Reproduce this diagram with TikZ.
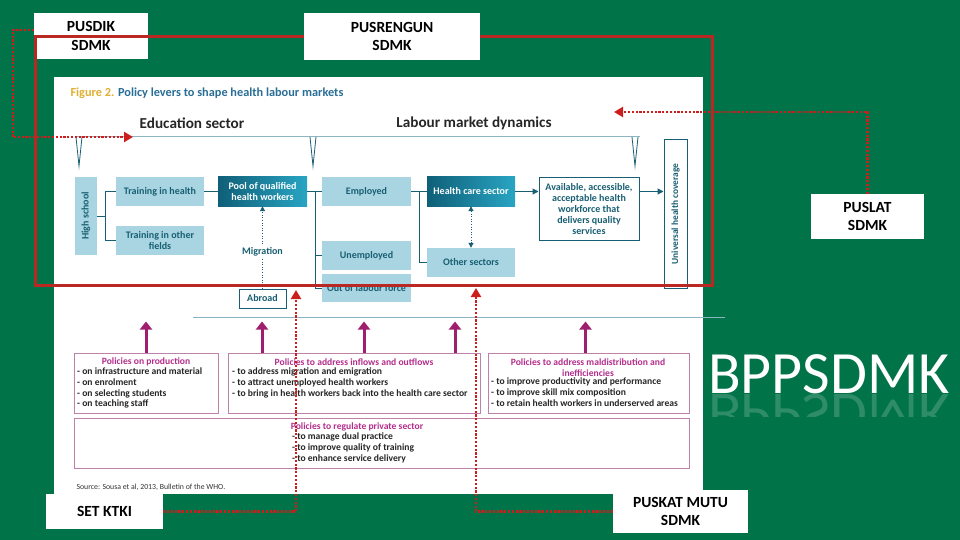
\documentclass[tikz,border=0pt]{standalone}
\usepackage{fontspec}
\setmainfont{Carlito}
\usetikzlibrary{arrows.meta}

\definecolor{bggreen}{RGB}{0,115,72}
\definecolor{framered}{RGB}{185,40,35}
\definecolor{dotred}{RGB}{205,30,30}
\definecolor{boxblue}{RGB}{168,213,225}
\definecolor{tealtext}{RGB}{25,95,115}
\definecolor{tealdark}{RGB}{15,95,120}
\definecolor{teallight}{RGB}{40,165,195}
\definecolor{rulecol}{RGB}{140,180,195}
\definecolor{figgold}{RGB}{225,175,50}
\definecolor{figblue}{RGB}{40,110,150}
\definecolor{polpurple}{RGB}{160,30,110}
\definecolor{polborder}{RGB}{190,130,170}
\definecolor{poltitle}{RGB}{180,45,140}

\begin{document}
\begin{tikzpicture}[x=1pt, y=-1pt, >=Latex,
    lblbox/.style={fill=white, inner sep=0pt, align=center, text=black,
        font=\bfseries\fontsize{15.5}{18.5}\selectfont},
    lightbox/.style={fill=boxblue, text=tealtext, inner sep=0pt, align=center,
        font=\bfseries\fontsize{10}{10.5}\selectfont},
    darkbox/.style={left color=tealdark, right color=teallight, text=white,
        inner sep=0pt, align=center, font=\bfseries\fontsize{10}{10.5}\selectfont},
    outbox/.style={draw=tealtext, line width=1pt, fill=white, text=tealtext,
        inner sep=0pt, align=center, font=\bfseries\fontsize{10}{10.8}\selectfont},
    link/.style={draw=tealtext, line width=1pt},
    linkarrow/.style={link, -{Triangle[length=6pt,width=6pt]}},
    linkdots/.style={draw=tealtext, line width=1pt, dash pattern=on 1pt off 1.6pt},
    dotline/.style={draw=dotred, line width=2.4pt, dash pattern=on 2.2pt off 1.6pt,
        -{Triangle[length=9pt,width=10pt]}},
    polbox/.style={draw=polborder, line width=1pt, fill=white, inner sep=0pt},
    poltitle/.style={text=poltitle, inner sep=0pt, align=center,
        font=\bfseries\fontsize{9.6}{10.8}\selectfont},
    politems/.style={text=black!85, inner sep=0pt, align=left, anchor=north west,
        font=\bfseries\fontsize{9.6}{10.8}\selectfont},
    polarrow/.style={draw=polpurple, line width=3pt, -{Triangle[length=8pt,width=12pt]}}
]

    % ==== BACKGROUND ====
    \fill[bggreen] (0,0) rectangle (960,540);
    \useasboundingbox (0,0) rectangle (960,540);

    % ==== FIGURE PANEL ====
    \fill[white] (54,77) rectangle (703,494);
    \node[anchor=west, font=\bfseries\fontsize{12.3}{14}\selectfont] (figtitle) at (67,93)
        {\textcolor{figgold}{Figure 2.} \textcolor{figblue}{Policy levers to shape health labour markets}};

    % ==== HEADERS ====
    \node[text=black!85, font=\bfseries\fontsize{15.2}{17}\selectfont] (edusec) at (192,123) {Education sector};
    \node[text=black!85, font=\bfseries\fontsize{15.2}{17}\selectfont] (labmkt) at (474,123) {Labour market dynamics};
    \draw[rulecol, line width=1pt] (77,137) -- (640,137);
    \foreach \vx in {79,313,635}{
        \draw[tealtext, line width=0.8pt] (\vx-3,137) -- (\vx,166) -- (\vx+3,137);
    }

    % ==== FLOW BOXES ====
    \node[lightbox, rotate=90, minimum width=78pt, minimum height=22pt] (highschool) at (86,216) {High school};
    \node[lightbox, minimum width=88pt, minimum height=29pt] (trainhealth) at (160,191.5) {Training in health};
    \node[lightbox, minimum width=88pt, minimum height=29pt] (trainother) at (160,240.5) {Training in other\\fields};
    \node[darkbox, minimum width=89pt, minimum height=29pt] (pool) at (262.5,191.5) {Pool of qualified\\health workers};
    \node[lightbox, minimum width=89pt, minimum height=29pt] (employed) at (366.5,191.5) {Employed};
    \node[lightbox, minimum width=89pt, minimum height=29pt] (unemployed) at (366.5,255.5) {Unemployed};
    \node[lightbox, minimum width=89pt, minimum height=28pt] (outlabour) at (366.5,288) {Out of labour force};
    \node[darkbox, minimum width=88pt, minimum height=29pt] (healthcare) at (471,191.5) {Health care sector};
    \node[lightbox, minimum width=88pt, minimum height=29pt] (othersec) at (471,262.5) {Other sectors};
    \node[outbox, minimum width=100pt, minimum height=62pt] (available) at (589,209)
        {Available, accessible,\\acceptable health\\workforce that\\delivers quality\\services};
    \node[outbox, rotate=90, minimum width=148pt, minimum height=23pt, font=\bfseries\fontsize{9.4}{10}\selectfont]
        (uhc) at (675.5,214) {Universal health coverage};
    \node[outbox, minimum width=47pt, minimum height=19pt] (abroad) at (262.5,298.5) {Abroad};

    % ==== FLOW LINKS ====
    \coordinate (hsjoin) at ([xshift=8pt]highschool.south);
    \coordinate (pooljoin) at ([xshift=8pt]pool.east);
    \coordinate (empjoin) at ([xshift=8pt]employed.east);
    \draw[link] (highschool.south) -- (hsjoin);
    \draw[link] (trainhealth.west) -| (hsjoin) |- (trainother.west);
    \draw[link] (trainhealth.east) -- (pool.west);
    \draw[link] (pool.east) -- (employed.west);
    \draw[link] (pooljoin) |- (outlabour.west);
    \draw[link] (pooljoin |- unemployed.west) -- (unemployed.west);
    \draw[link] (employed.east) -- (healthcare.west);
    \draw[link] (empjoin) |- (othersec.west);
    \draw[linkarrow] (healthcare.east) -- (healthcare.east -| available.west);
    \draw[linkarrow] (available.east |- healthcare.east) -- (healthcare.east -| uhc.north);
    \draw[linkdots, {Triangle[length=5pt,width=5pt]}-{Triangle[length=5pt,width=5pt]}]
        (healthcare.south) -- (othersec.north);
    \draw[linkdots, -{Triangle[length=5pt,width=5pt]}] (abroad.north) --
        node[pos=0.45, fill=white, inner sep=1pt, text=tealtext, font=\bfseries\fontsize{10}{11}\selectfont] (migration) {Migration}
        (pool.south);

    % ==== POLICY BOXES ====
    \draw[rulecol, line width=0.6pt] (193,317) -- (725,317);
    \node[polbox, minimum width=144pt, minimum height=60pt] (prod) at (146,383) {};
    \node[polbox, minimum width=252pt, minimum height=60pt] (inflow) at (354,383) {};
    \node[polbox, minimum width=201pt, minimum height=60pt] (maldist) at (588.5,383) {};
    \node[polbox, minimum width=615pt, minimum height=50pt] (private) at (381.5,443) {};

    \draw[polarrow] (prod.north) -- ++(0,-31);
    \draw[polarrow] ([xshift=-92pt]inflow.north) -- ++(0,-31);
    \draw[polarrow] ([xshift=10pt]inflow.north) -- ++(0,-31);
    \draw[polarrow] ([xshift=101pt]inflow.north) -- ++(0,-31);
    \draw[polarrow] ([xshift=-3pt]maldist.north) -- ++(0,-31);

    \node[poltitle] (prodtitle) at (146,362) {Policies on production};
    \node[politems] (proditems) at (77,367.5) {- on infrastructure and material\\- on enrolment\\- on selecting students\\- on teaching staff};
    \node[poltitle] (inflowtitle) at (354,362) {Policies to address inflows and outflows};
    \node[politems] (inflowitems) at (232,367.5) {- to address migration and emigration\\- to attract unemployed health workers\\- to bring in health workers back into the health care sector};
    \node[poltitle] (maldisttitle) at (588,367.5) {Policies to address maldistribution and\\inefficiencies};
    \node[politems] (maldistitems) at (491,378) {- to improve productivity and performance\\- to improve skill mix composition\\- to retain health workers in underserved areas};
    \node[poltitle] (privatetitle) at (357,427) {Policies to regulate private sector};
    \node[politems] (privateitems) at (292,432.5) {- to manage dual practice\\- to improve quality of training\\- to enhance service delivery};

    \node[anchor=west, text=black!80, font=\fontsize{7.8}{9}\selectfont] (source) at (73,487)
        {Source: Sousa et al, 2013, Bulletin of the WHO.};

    % ==== UNIT LABELS AND RED FRAME ====
    \node[lblbox, minimum width=114pt, minimum height=46pt] (pusdik) at (91,36) {PUSDIK\\SDMK};
    \draw[framered, line width=3pt] (35,37) rectangle (712,285);
    \node[lblbox, minimum width=176pt, minimum height=47pt] (pusrengun) at (392,36.5) {PUSRENGUN\\SDMK};
    \node[lblbox, minimum width=113pt, minimum height=45pt] (puslat) at (867.5,216.5) {PUSLAT\\SDMK};
    \node[lblbox, minimum width=117pt, minimum height=35pt] (setktki) at (104.5,511.5) {SET KTKI};
    \node[lblbox, minimum width=135pt, minimum height=43pt] (puskat) at (680.5,511.5) {PUSKAT MUTU\\SDMK};

    % ==== DOTTED LINKS ====
    \coordinate (edutip) at (133,137);
    \coordinate (labtip) at (614,112);
    \coordinate (ktkitip) at (296,290);
    \coordinate (mututip) at (476,288);
    \draw[dotline] ([yshift=6pt]pusdik.west) -- ++(-21,0) |- (edutip);
    \draw[dotline] (puslat.north) |- (labtip);
    \draw[dotline] (setktki.east) -| (ktkitip);
    \draw[dotline] (puskat.west) -| (mututip);

    % ==== BPPSDMK ====
    \node[anchor=base, text=white, font=\fontsize{60}{60}\selectfont] (bppsdmk) at (829,393) {BPPSDMK};
    \begin{scope}
        \clip (700,394) rectangle (960,416);
        \node[anchor=base, text=white, opacity=0.18, yscale=-1, transform shape,
            font=\fontsize{60}{60}\selectfont] (bppsdmkrefl) at (829,394) {BPPSDMK};
    \end{scope}

\end{tikzpicture}
\end{document}
